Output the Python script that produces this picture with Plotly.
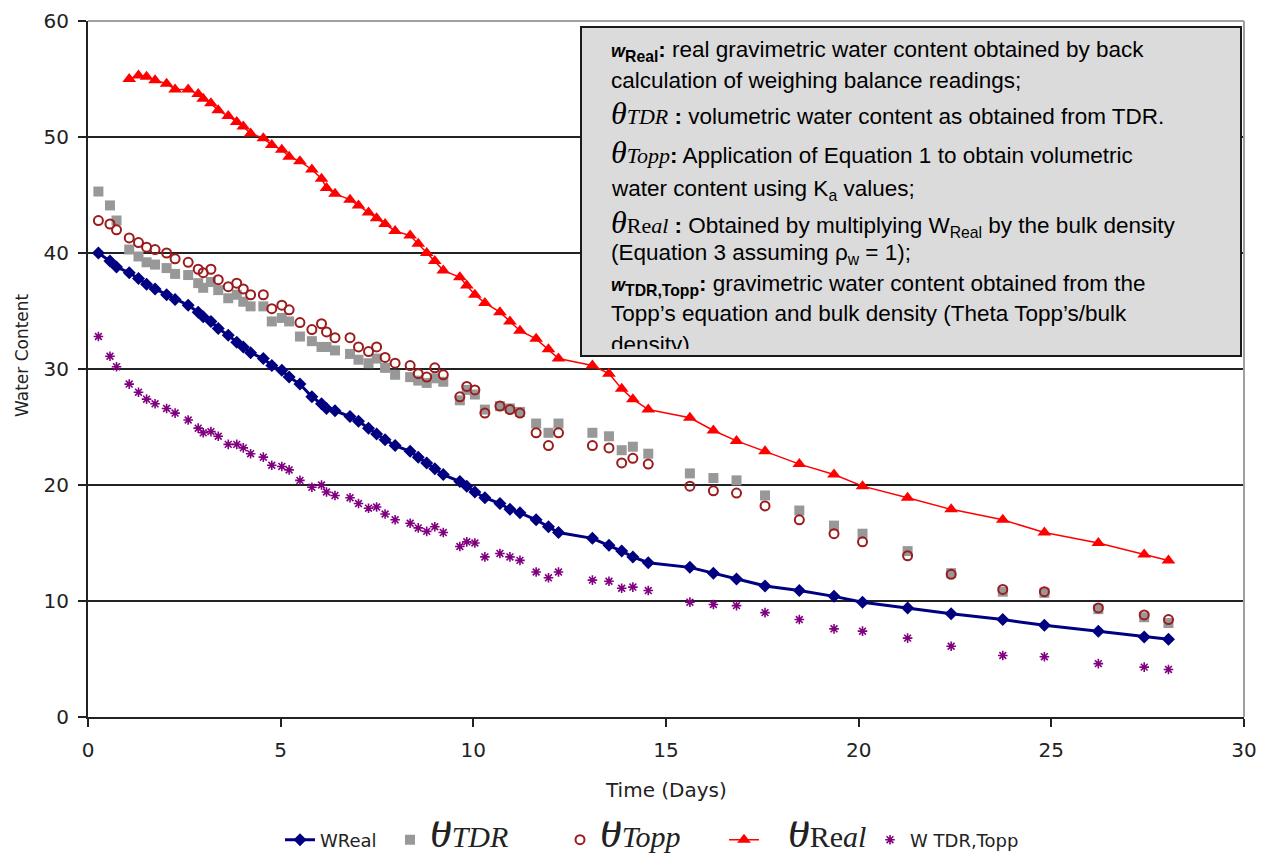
import plotly.graph_objects as go

# ---------------- data ----------------
days = [0.27, 0.57, 0.74, 1.07, 1.31, 1.52, 1.74, 2.04, 2.26, 2.60, 2.86, 2.99,
        3.19, 3.38, 3.64, 3.86, 4.03, 4.22, 4.55, 4.77, 5.03, 5.22, 5.50, 5.81,
        6.06, 6.19, 6.41, 6.80, 7.02, 7.28, 7.49, 7.71, 7.97, 8.36, 8.57, 8.79,
        9.00, 9.22, 9.65, 9.83, 10.04, 10.30, 10.69, 10.95, 11.21, 11.63, 11.95,
        12.21, 13.09, 13.52, 13.85, 14.14, 14.54, 15.62, 16.23, 16.83, 17.57,
        18.46, 19.36, 20.10, 21.27, 22.40, 23.74, 24.82, 26.22, 27.41, 28.04]

w_real = [40.0, 39.3, 38.8, 38.3, 37.8, 37.3, 36.9, 36.4, 36.0, 35.5, 34.9, 34.5,
          34.1, 33.5, 32.9, 32.3, 31.9, 31.4, 30.9, 30.3, 29.9, 29.3, 28.7, 27.6,
          27.0, 26.6, 26.4, 25.9, 25.5, 24.9, 24.4, 23.9, 23.4, 22.9, 22.4, 21.9,
          21.4, 20.9, 20.3, 19.9, 19.4, 18.9, 18.4, 17.9, 17.6, 17.0, 16.4,
          15.9, 15.4, 14.8, 14.3, 13.8, 13.3, 12.9, 12.4, 11.9, 11.3,
          10.9, 10.4, 9.9, 9.4, 8.9, 8.4, 7.9, 7.4, 6.9, 6.7]

theta_tdr = [45.3, 44.1, 42.8, 40.3, 39.7, 39.2, 39.0, 38.7, 38.2, 38.1, 37.4, 37.0,
             37.5, 36.8, 36.1, 36.4, 35.8, 35.4, 35.4, 34.1, 34.4, 34.1, 32.8, 32.4,
             31.9, 31.9, 31.6, 31.3, 30.8, 30.5, 30.9, 30.1, 29.5, 29.3, 29.0, 28.8,
             29.2, 28.9, 27.3, 28.2, 27.8, 26.5, 26.8, 26.6, 26.3, 25.3, 24.5,
             25.3, 24.5, 24.2, 23.0, 23.3, 22.7, 21.0, 20.6, 20.4, 19.1,
             17.8, 16.5, 15.8, 14.3, 12.4, 10.8, 10.7, 9.3, 8.6, 8.1]

theta_topp = [42.8, 42.5, 42.0, 41.3, 40.9, 40.5, 40.3, 40.0, 39.5, 39.2, 38.6, 38.3,
              38.6, 37.7, 37.1, 37.4, 36.9, 36.4, 36.4, 35.2, 35.5, 35.1, 34.0, 33.4,
              33.9, 33.2, 32.7, 32.7, 31.9, 31.5, 31.9, 31.0, 30.5, 30.3, 29.6, 29.3,
              30.1, 29.5, 27.6, 28.5, 28.2, 26.2, 26.8, 26.5, 26.2, 24.5, 23.4,
              24.5, 23.4, 23.2, 21.9, 22.3, 21.8, 19.9, 19.5, 19.3, 18.2,
              17.0, 15.8, 15.1, 13.9, 12.3, 11.0, 10.8, 9.4, 8.8, 8.4]

theta_real = [None, None, None, 55.0, 55.3, 55.2, 54.9, 54.6, 54.1, 54.1, 53.7, 53.3,
              52.9, 52.3, 51.8, 51.3, 50.9, 50.3, 49.9, 49.3, 48.9, 48.3, 47.9, 47.2,
              46.4, 45.6, 45.1, 44.6, 44.1, 43.5, 43.0, 42.5, 41.9, 41.5, 40.8, 40.0,
              39.3, 38.5, 37.9, 37.2, 36.4, 35.7, 34.9, 34.1, 33.3, 32.6, 31.7,
              30.9, 30.3, 29.6, 28.3, 27.4, 26.5, 25.8, 24.7, 23.8, 22.9,
              21.8, 20.9, 19.9, 18.9, 17.9, 17.0, 15.9, 15.0, 14.0, 13.5]

w_tdr_topp = [32.8, 31.1, 30.2, 28.7, 28.0, 27.4, 27.0, 26.6, 26.2, 25.6, 24.9, 24.5,
              24.6, 24.2, 23.5, 23.5, 23.2, 22.7, 22.4, 21.7, 21.6, 21.3, 20.4, 19.8,
              20.0, 19.4, 19.1, 18.9, 18.4, 18.0, 18.1, 17.5, 17.0, 16.7, 16.3, 16.0,
              16.4, 15.9, 14.7, 15.1, 15.0, 13.8, 14.1, 13.8, 13.5, 12.5, 12.0,
              12.5, 11.8, 11.7, 11.1, 11.2, 10.9, 9.9, 9.7, 9.6, 9.0,
              8.4, 7.6, 7.4, 6.8, 6.1, 5.3, 5.2, 4.6, 4.3, 4.1]

x_ticks = [0, 5, 10, 15, 20, 25, 30]
y_ticks = [0, 10, 20, 30, 40, 50, 60]

# ---------------- layout helpers ----------------
W, H = 1264, 858
ML, MR, MT, MB = 88, 20, 21, 141
PW, PH = W - ML - MR, H - MT - MB


def px_x(px):
    return (px - ML) / PW


def px_y(py):
    return (H - MB - py) / PH


SERIF = "font-family:Liberation Serif"


def theta(sub_html, big=44, small=30, lead=""):
    return (f'{lead}<span style="{SERIF};font-size:{big}px"><i>θ</i></span>'
            f'<span style="{SERIF};font-size:{small}px">{sub_html}</span>')


fig = go.Figure()

fig.add_trace(go.Scatter(
    x=days, y=w_real, mode="lines+markers", name="WReal", legend="legend",
    line=dict(color="#000080", width=3),
    marker=dict(symbol="diamond", size=10, color="#000080")))

fig.add_trace(go.Scatter(
    x=days, y=theta_tdr, mode="markers", name=theta("<i>TDR</i>"), legend="legend2",
    marker=dict(symbol="square", size=10, color="#989898")))

fig.add_trace(go.Scatter(
    x=days, y=theta_topp, mode="markers", name=theta("<i>Topp</i>"), legend="legend3",
    marker=dict(symbol="circle-open", size=9, color="#9a1c1c",
                line=dict(width=2, color="#9a1c1c"))))

fig.add_trace(go.Scatter(
    x=days, y=theta_real, mode="lines+markers", legend="legend4",
    name=theta("Re<i>al</i>", lead='<span style="font-size:24px">\u2003</span>'),
    line=dict(color="#ff0000", width=1.5),
    marker=dict(symbol="triangle-up", size=12, color="#ff0000")))

fig.add_trace(go.Scatter(
    x=days, y=w_tdr_topp, mode="markers", name="W TDR,Topp", legend="legend5",
    marker=dict(symbol="asterisk-open", size=8, color="#800080",
                line=dict(width=1.6, color="#800080"))))

TICKFONT = dict(family="DejaVu Sans", size=20, color="#222222")

fig.update_xaxes(range=[0, 30], tickvals=x_ticks, ticks="outside", ticklen=8,
                 tickwidth=1.5, tickcolor="#222222", showline=True,
                 linecolor="#222222", linewidth=2, showgrid=False,
                 zeroline=False, tickfont=TICKFONT, ticklabelstandoff=6)
fig.update_yaxes(range=[0, 60], tickvals=y_ticks, ticks="outside", ticklen=8,
                 tickwidth=1.5, tickcolor="#222222", showline=True,
                 linecolor="#222222", linewidth=2, showgrid=True,
                 gridcolor="#222222", gridwidth=1.5, zeroline=False,
                 tickfont=TICKFONT, ticklabelstandoff=5)

shapes = [
    # grey top and right plot border
    dict(type="line", xref="paper", yref="paper", x0=0, x1=1, y0=1, y1=1,
         line=dict(color="#a0a0a0", width=2), layer="above"),
    dict(type="line", xref="paper", yref="paper", x0=1, x1=1, y0=0, y1=1,
         line=dict(color="#a0a0a0", width=2), layer="above"),
    # explanatory box
    dict(type="rect", xref="paper", yref="paper",
         x0=px_x(581), x1=px_x(1241), y0=px_y(356), y1=px_y(27),
         fillcolor="#dbdbdb", line=dict(color="#1a1a1a", width=2), layer="above"),
]

BOXFONT = dict(family="Liberation Sans", size=22.5, color="#000000")
wbold = '<b><i><span style="font-size:18px">w</span></i></b>'
box_lines = [
    (51, wbold + '<b><sub>Real</sub>:</b> real gravimetric water content obtained by back'),
    (80, 'calculation of weighing balance readings;'),
    (113, theta("<i>TDR</i>", 32, 22) + '<b> :</b> volumetric water content as obtained from TDR.'),
    (152, theta("<i>Topp</i>", 32, 22) + '<b>:</b> Application of Equation 1 to obtain volumetric'),
    (190, 'water content using K<sub>a</sub> values;'),
    (222, theta("Re<i>al</i>", 32, 22) + '<b> :</b> Obtained by multiplying W<sub>Real</sub> by the bulk density'),
    (254, '(Equation 3 assuming ρ<sub>w</sub> = 1);'),
    (285, wbold + '<b><sub>TDR,Topp</sub>:</b> gravimetric water content obtained from the'),
    (313, 'Topp’s equation and bulk density (Theta Topp’s/bulk'),
]

annotations = []
for ypx, txt in box_lines:
    annotations.append(dict(x=px_x(609), y=px_y(ypx), xref="paper", yref="paper",
                            xanchor="left", yanchor="middle", text=txt,
                            showarrow=False, font=BOXFONT, align="left"))
# last, clipped line
annotations.append(dict(x=px_x(609), y=px_y(330), xref="paper", yref="paper",
                        xanchor="left", yanchor="top", text="density).",
                        showarrow=False, font=BOXFONT, align="left",
                        height=17, width=130, valign="top"))

annotations.append(dict(x=px_x(666), y=px_y(790), xref="paper", yref="paper",
                        xanchor="center", yanchor="middle",
                        text="Time (Days)", showarrow=False,
                        font=dict(family="DejaVu Sans", size=20, color="#222222")))
annotations.append(dict(x=px_x(22), y=px_y(355), xref="paper", yref="paper",
                        xanchor="center", yanchor="middle",
                        text="Water Content", showarrow=False, textangle=-90,
                        font=dict(family="DejaVu Sans", size=17, color="#222222")))

LEGFONT = dict(family="DejaVu Sans", size=18, color="#222222")


def leg(origin_px):
    return dict(orientation="h", x=px_x(origin_px), xanchor="left",
                y=px_y(840), yanchor="middle", font=LEGFONT,
                bgcolor="rgba(0,0,0,0)", itemwidth=30, borderwidth=0)


fig.update_layout(
    width=W, height=H,
    margin=dict(l=ML, r=MR, t=MT, b=MB, pad=0, autoexpand=False),
    paper_bgcolor="white", plot_bgcolor="white",
    shapes=shapes, annotations=annotations,
    showlegend=True,
    legend=leg(280), legend2=leg(390), legend3=leg(560),
    legend4=leg(724), legend5=leg(870),
)

fig.write_html("out.html", config={"displayModeBar": False},
               post_script="document.body.style.margin='0';document.body.style.padding='0';")
